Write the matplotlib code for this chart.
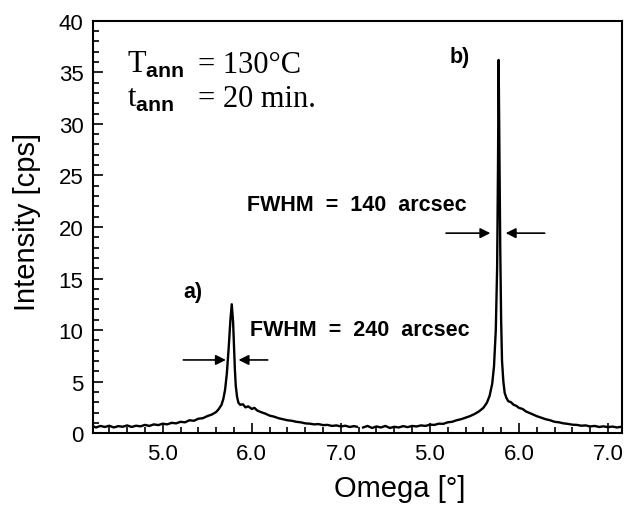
import matplotlib
matplotlib.use("Agg")
import matplotlib.pyplot as plt
from matplotlib.ticker import FixedLocator, MultipleLocator
import numpy as np

# scan a) : omega (deg) and intensity (cps)
omega_a = [4.20, 4.25, 4.30, 4.35, 4.40, 4.45, 4.50, 4.55, 4.60, 4.65,
           4.70, 4.75, 4.80, 4.85, 4.90, 4.95, 5.00, 5.05, 5.10, 5.15,
           5.20, 5.25, 5.30, 5.35, 5.40, 5.45, 5.50, 5.55, 5.60, 5.63,
           5.66, 5.68, 5.70, 5.72, 5.74, 5.76, 5.775, 5.79, 5.80, 5.81,
           5.82, 5.835, 5.85, 5.87, 5.90, 5.93, 5.96, 6.00, 6.03, 6.06,
           6.10, 6.15, 6.20, 6.25, 6.30, 6.35, 6.40, 6.45, 6.50, 6.55,
           6.60, 6.65, 6.70, 6.75, 6.80, 6.85, 6.90, 6.95, 7.00, 7.05,
           7.10, 7.15, 7.18]
int_a = [0.75, 0.55, 0.70, 0.60, 0.72, 0.55, 0.68, 0.62, 0.75, 0.60,
         0.72, 0.66, 0.80, 0.70, 0.85, 0.78, 0.92, 0.85, 1.00, 0.95,
         1.10, 1.05, 1.25, 1.20, 1.40, 1.45, 1.65, 1.80, 2.05, 2.35,
         2.75, 3.30, 4.20, 5.80, 8.20, 11.00, 12.50, 10.80, 8.50, 6.20,
         4.60, 3.50, 2.95, 2.75, 2.80, 2.50, 2.60, 2.35, 2.45, 2.20,
         2.05, 1.90, 1.70, 1.60, 1.45, 1.35, 1.25, 1.20, 1.10, 1.05,
         0.95, 0.92, 0.85, 0.88, 0.78, 0.80, 0.70, 0.75, 0.65, 0.72,
         0.60, 0.68, 0.62]

# scan b)
omega_b = [4.25, 4.30, 4.35, 4.40, 4.45, 4.50, 4.55, 4.60, 4.65, 4.70,
           4.75, 4.80, 4.85, 4.90, 4.95, 5.00, 5.05, 5.10, 5.15, 5.20,
           5.25, 5.30, 5.35, 5.40, 5.45, 5.50, 5.55, 5.60, 5.64, 5.67,
           5.70, 5.72, 5.74, 5.755, 5.765, 5.772, 5.78, 5.79, 5.80, 5.81,
           5.825, 5.84, 5.86, 5.88, 5.91, 5.94, 5.97, 6.00, 6.04, 6.08,
           6.12, 6.16, 6.20, 6.25, 6.30, 6.35, 6.40, 6.45, 6.50, 6.55,
           6.60, 6.65, 6.70, 6.75, 6.80, 6.85, 6.90, 6.95, 7.00, 7.05,
           7.10, 7.15]
int_b = [0.55, 0.70, 0.50, 0.65, 0.55, 0.70, 0.50, 0.62, 0.55, 0.68,
         0.58, 0.70, 0.65, 0.75, 0.70, 0.82, 0.80, 0.92, 0.90, 1.05,
         1.10, 1.25, 1.35, 1.50, 1.65, 1.85, 2.10, 2.45, 2.95, 3.60,
         4.80, 6.50, 10.0, 16.0, 26.0, 36.2, 28.0, 18.0, 11.0, 7.0,
         5.0, 3.90, 3.40, 3.10, 3.00, 2.75, 2.65, 2.45, 2.35, 2.10,
         1.95, 1.80, 1.65, 1.50, 1.35, 1.25, 1.10, 1.05, 0.95, 0.90,
         0.82, 0.80, 0.72, 0.75, 0.65, 0.70, 0.60, 0.66, 0.58, 0.64,
         0.55, 0.62]

# scan b is drawn right of scan a, shifted by 3 degrees on a common axis
offset_b = 3.0
tick_pos = [5, 6, 7, 8, 9, 10]
tick_labels = ["5.0", "6.0", "7.0", "5.0", "6.0", "7.0"]

plt.rcParams["font.family"] = ["Liberation Sans", "DejaVu Sans"]
plt.rcParams["mathtext.fontset"] = "custom"
plt.rcParams["mathtext.rm"] = "Liberation Serif"
plt.rcParams["mathtext.bf"] = "Liberation Sans:bold"

fig = plt.figure(figsize=(6.26, 5.06), dpi=100)
ax = fig.add_axes([0.149, 0.142, 0.845, 0.815])

ax.plot(omega_a, int_a, color="black", linewidth=1.7)
ax.plot(np.array(omega_b) + offset_b, int_b, color="black", linewidth=1.7)

ax.set_xlim(4.22, 10.16)
ax.set_ylim(0, 40)
ax.xaxis.set_major_locator(FixedLocator(tick_pos))
ax.set_xticklabels(tick_labels)
ax.xaxis.set_minor_locator(MultipleLocator(0.2))
ax.yaxis.set_major_locator(MultipleLocator(5))
ax.yaxis.set_minor_locator(MultipleLocator(1))
ax.tick_params(which="both", direction="in", top=False, right=False,
               width=1.2, labelsize=16, colors="black")
ax.tick_params(which="major", length=7, pad=7)
ax.tick_params(which="minor", length=4)
for sp in ax.spines.values():
    sp.set_linewidth(1.5)

ax.set_xlabel("Omega [°]", fontsize=21)
ax.xaxis.set_label_coords(0.58, -0.1)
ax.set_ylabel("Intensity [cps]", fontsize=21)
ax.yaxis.set_label_coords(-0.098, 0.515)

# annealing conditions
serif = ["Liberation Serif", "DejaVu Serif"]
ax.text(4.6, 35.8, r"$\mathrm{T}_{\mathbf{ann}}$", fontsize=22, family=serif,
        va="center")
ax.text(5.40, 35.8, "= 130°C", fontsize=22, family=serif, va="center")
ax.text(4.6, 32.5, r"$\mathrm{t}_{\mathbf{ann}}$", fontsize=22, family=serif,
        va="center")
ax.text(5.40, 32.5, "= 20 min.", fontsize=22, family=serif, va="center")

bold = dict(fontsize=15.5, fontweight="bold", va="center")
ax.text(5.34, 13.7, "a)", ha="center", **bold)
ax.text(8.34, 36.5, "b)", ha="center", **bold)
ax.text(5.98, 10.1, "FWHM  =  240  arcsec", ha="left", **bold)
ax.text(5.95, 22.2, "FWHM  =  140  arcsec", ha="left", **bold)

arrow = dict(arrowstyle="-|>", color="black", lw=1.2, mutation_scale=15)
ax.annotate("", xy=(5.74, 7.1), xytext=(5.20, 7.1), arrowprops=arrow)
ax.annotate("", xy=(5.82, 7.1), xytext=(6.21, 7.1), arrowprops=arrow)
ax.annotate("", xy=(8.71, 19.4), xytext=(8.15, 19.4), arrowprops=arrow)
ax.annotate("", xy=(8.82, 19.4), xytext=(9.32, 19.4), arrowprops=arrow)

fig.savefig("out.png", dpi=100, facecolor="white")
